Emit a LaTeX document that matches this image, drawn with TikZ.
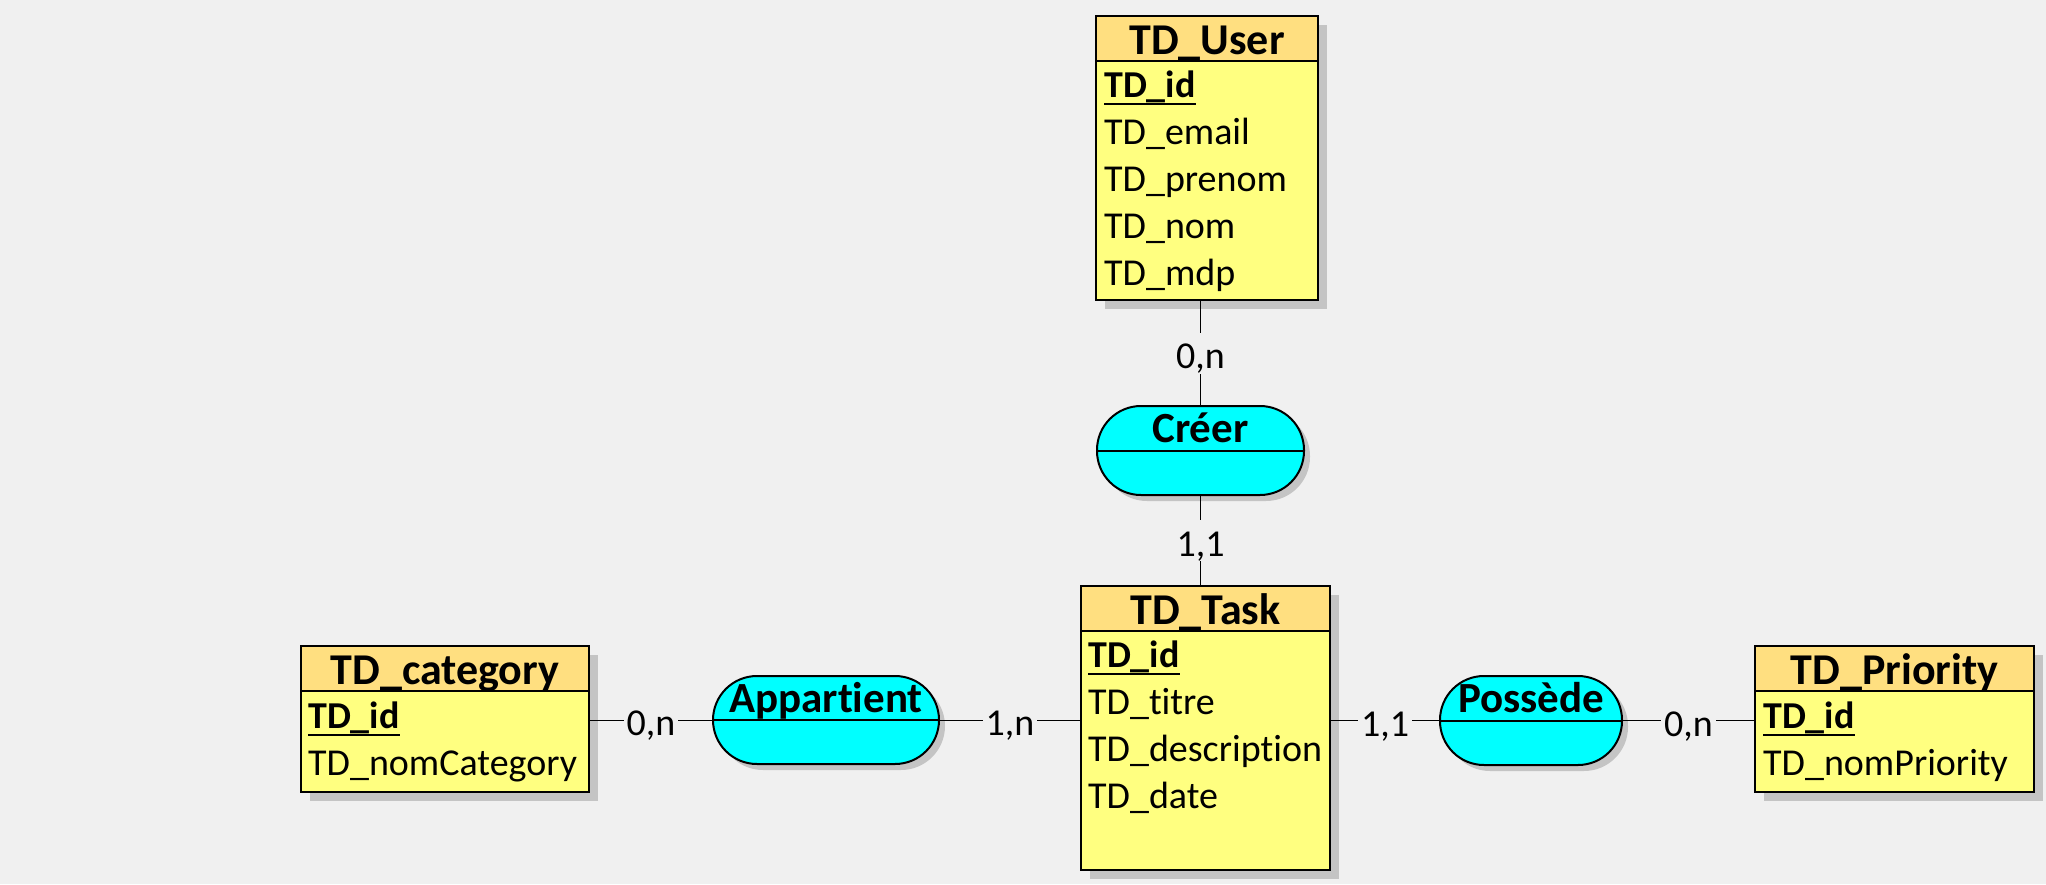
\documentclass[tikz,border=0pt]{standalone}
\usepackage{fontspec}
\setmainfont{Carlito}[Ligatures=NoCommon]
\usetikzlibrary{shadows}
\definecolor{bg}{HTML}{F0F0F0}
\definecolor{headcol}{HTML}{FFDF80}
\definecolor{bodycol}{HTML}{FFFF80}
\definecolor{relcol}{HTML}{00FFFF}
\definecolor{shadowcol}{HTML}{C4C4C4}
\begin{document}
\begin{tikzpicture}[x=1pt, y=-1pt,
  entbox/.style={draw, line width=2pt, fill=bodycol, inner sep=0pt, anchor=north west,
    drop shadow={shadow xshift=9pt, shadow yshift=-9pt, fill=shadowcol, opacity=1}},
  headbox/.style={draw, line width=2pt, fill=headcol, inner sep=0pt, anchor=north west, minimum height=45pt},
  enttitle/.style={font=\fontsize{44}{52}\selectfont\bfseries, inner sep=0pt, anchor=base},
  attr/.style={font=\fontsize{38}{45}\selectfont, inner sep=0pt, anchor=base west},
  keyattr/.style={font=\fontsize{38}{45}\selectfont\bfseries, inner sep=0pt, anchor=base west},
  keyline/.style={line width=2pt},
  relbox/.style={draw, line width=2pt, fill=relcol, rounded corners=44pt, inner sep=0pt,
    drop shadow={shadow xshift=6pt, shadow yshift=-6pt, fill=shadowcol, opacity=1}},
  reltitle/.style={font=\fontsize{43}{50}\selectfont\bfseries, inner sep=0pt, anchor=base},
  midline/.style={line width=2pt},
  conn/.style={line width=1pt},
  card/.style={fill=bg, font=\fontsize{38}{45}\selectfont, inner xsep=3pt, inner ysep=0pt, text height=36pt, text depth=5pt}
]
\useasboundingbox (0,0) rectangle (2046,884);
\fill[bg] (0,0) rectangle (2046,884);

% ---------- TD_User ----------
\node[entbox, minimum width=222pt, minimum height=284pt] (user) at (1095,15) {};
\node[headbox, minimum width=222pt] (userh) at (user.north west) {};
\node[enttitle] (usert) at ([yshift=-39pt]userh.north) {TD\_User};
\node[keyattr] (userid) at (1104,97) {TD\_id};
\draw[keyline] ([yshift=-7pt]userid.base west) -- ([yshift=-7pt]userid.base east);
\node[attr] (usera) at (1104,144) {TD\_email};
\node[attr] (userb) at (1104,191) {TD\_prenom};
\node[attr] (userc) at (1104,238) {TD\_nom};
\node[attr] (userd) at (1104,285) {TD\_mdp};

% ---------- TD_Task ----------
\node[entbox, minimum width=249pt, minimum height=284pt] (task) at (1080,585) {};
\node[headbox, minimum width=249pt] (taskh) at (task.north west) {};
\node[enttitle] (taskt) at ([yshift=-39pt]taskh.north) {TD\_Task};
\node[keyattr] (taskid) at (1088,667) {TD\_id};
\draw[keyline] ([yshift=-7pt]taskid.base west) -- ([yshift=-7pt]taskid.base east);
\node[attr] (taska) at (1088,714) {TD\_titre};
\node[attr] (taskb) at (1088,761) {TD\_description};
\node[attr] (taskc) at (1088,808) {TD\_date};

% ---------- TD_category ----------
\node[entbox, minimum width=288pt, minimum height=146pt] (cat) at (300,645) {};
\node[headbox, minimum width=288pt] (cath) at (cat.north west) {};
\node[enttitle] (catt) at ([yshift=-39pt]cath.north) {TD\_category};
\node[keyattr] (catid) at (308,728) {TD\_id};
\draw[keyline] ([yshift=-7pt]catid.base west) -- ([yshift=-7pt]catid.base east);
\node[attr] (cata) at (308,775) {TD\_nomCategory};

% ---------- TD_Priority ----------
\node[entbox, minimum width=279pt, minimum height=146pt] (prio) at (1754,645) {};
\node[headbox, minimum width=279pt] (prioh) at (prio.north west) {};
\node[enttitle] (priot) at ([yshift=-39pt]prioh.north) {TD\_Priority};
\node[keyattr] (prioid) at (1763,728) {TD\_id};
\draw[keyline] ([yshift=-7pt]prioid.base west) -- ([yshift=-7pt]prioid.base east);
\node[attr] (prioa) at (1763,775) {TD\_nomPriority};

% ---------- Relationships ----------
\node[relbox, minimum width=207pt, minimum height=89pt] (creer) at (1200.5,450.5) {};
\draw[midline] (creer.west) -- (creer.east);
\node[reltitle] (creert) at ([yshift=8pt]creer.center) {Créer};

\node[relbox, minimum width=226pt, minimum height=88pt] (app) at (826,720) {};
\draw[midline] (app.west) -- (app.east);
\node[reltitle] (appt) at ([yshift=8pt]app.center) {Appartient};

\node[relbox, minimum width=182pt, minimum height=89pt] (poss) at (1531,720.5) {};
\draw[midline] (poss.west) -- (poss.east);
\node[reltitle] (posst) at ([yshift=8pt]poss.center) {Possède};

% ---------- Connectors ----------
\draw[conn] (creer.north) -- (creer.north |- user.south) node[card, midway] (c1) {0,n};
\draw[conn] (creer.south) -- (creer.south |- task.north) node[card, midway] (c2) {1,1};
\draw[conn] (cat.east |- app.center) -- (app.west) node[card, midway] (c3) {0,n};
\draw[conn] (app.east) -- (task.west |- app.center) node[card, midway] (c4) {1,n};
\draw[conn] (task.east |- poss.center) -- (poss.west) node[card, midway] (c5) {1,1};
\draw[conn] (poss.east) -- (prio.west |- poss.center) node[card, midway] (c6) {0,n};
\end{tikzpicture}
\end{document}
